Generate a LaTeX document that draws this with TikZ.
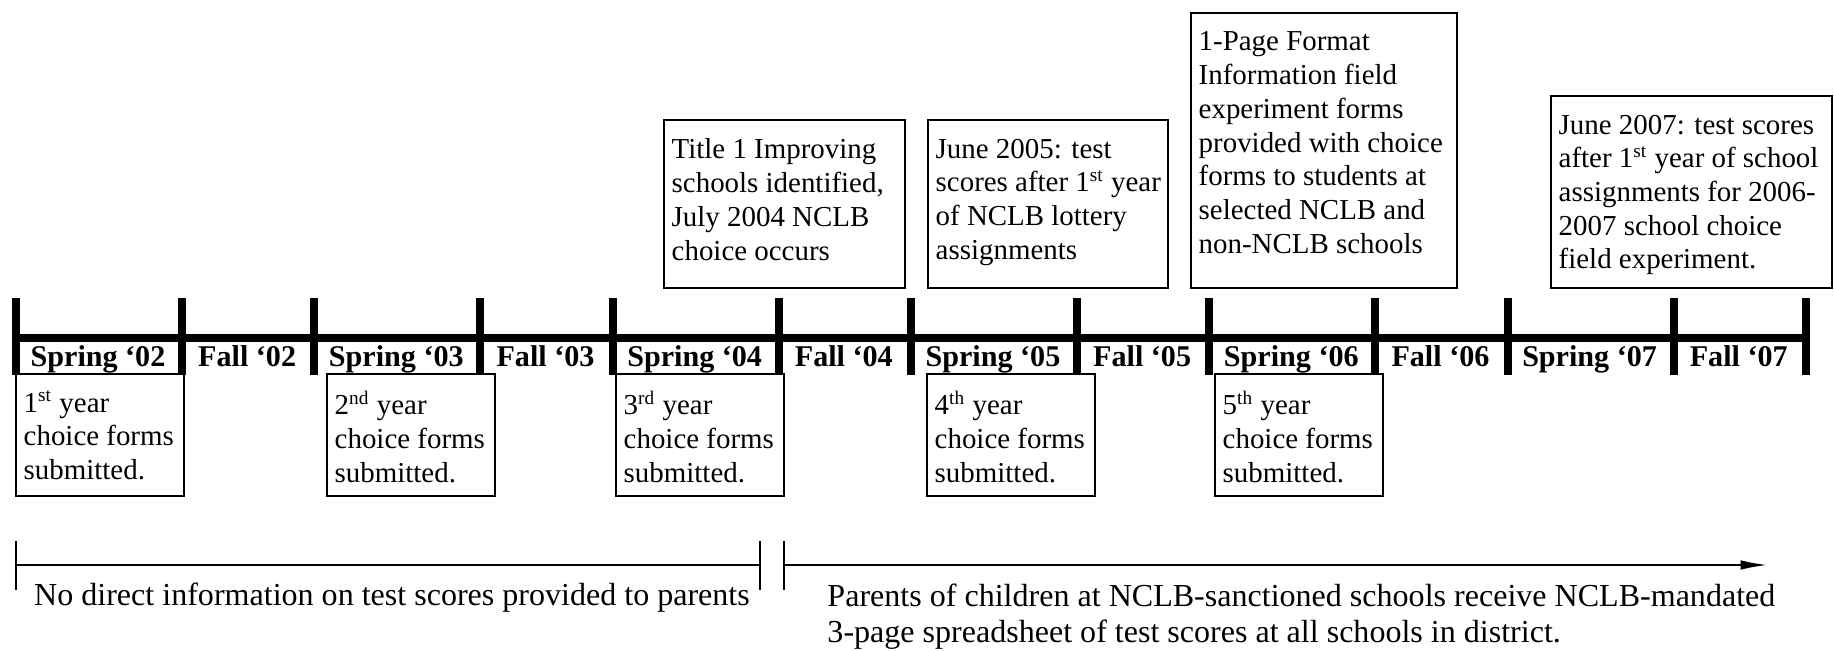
\documentclass[tikz,border=0pt]{standalone}
\usepackage{fontspec}
\setmainfont{Liberation Serif}
\usepackage{tikz}
\usetikzlibrary{positioning, arrows.meta}
\tikzset{
    axisline/.style = {line width=3.2pt},
    tickline/.style = {line width=3.3pt},
    periodnode/.style = {draw=none, fill=none, rectangle, inner sep=0em, node distance=0em,
      text height=8pt, text depth=2.5pt, font=\bfseries\fontsize{12.5}{14}\selectfont},
    boxtext/.style = {draw=none, fill=none, rectangle, anchor=north west, align=left,
      inner xsep=3pt, inner ysep=6.8pt, font=\fontsize{12}{14}\selectfont},
    topboxtext/.style = {boxtext, inner ysep=7.6pt},
    boxline/.style = {draw, line width=0.9pt},
    textnode/.style = {draw=none, fill=none, rectangle, inner sep=0em, align=left,
      font=\fontsize{13.3}{15}\selectfont},
    spanline/.style = {line width=0.7pt},
    endline/.style = {line width=0.5pt}
}

\begin{document}
\begin{tikzpicture}[x=0.415pt, y=-0.415pt]
    \useasboundingbox (0,0) rectangle (1834,650);

    % time axis
    \draw [axisline] (12,338) -- (1810,338);
    \draw [tickline] (16,298) -- (16,375) (182,298) -- (182,375)
        (314.3,298) -- (314.3,375) (480.3,298) -- (480.3,375)
        (612.6,298) -- (612.6,375) (778.6,298) -- (778.6,375)
        (910.9,298) -- (910.9,375) (1076.9,298) -- (1076.9,375)
        (1209.2,298) -- (1209.2,375) (1375.2,298) -- (1375.2,375)
        (1507.5,298) -- (1507.5,375) (1673.5,298) -- (1673.5,375)
        (1805.8,298) -- (1805.8,375);

    \node [name=sp02, periodnode] at (98,360) {Spring ‘02};
    \node [name=fa02, periodnode, right of = sp02, xshift=61.9pt] {Fall ‘02};
    \node [name=sp03, periodnode, right of = fa02, xshift=61.9pt] {Spring ‘03};
    \node [name=fa03, periodnode, right of = sp03, xshift=61.9pt] {Fall ‘03};
    \node [name=sp04, periodnode, right of = fa03, xshift=61.9pt] {Spring ‘04};
    \node [name=fa04, periodnode, right of = sp04, xshift=61.9pt] {Fall ‘04};
    \node [name=sp05, periodnode, right of = fa04, xshift=61.9pt] {Spring ‘05};
    \node [name=fa05, periodnode, right of = sp05, xshift=61.9pt] {Fall ‘05};
    \node [name=sp06, periodnode, right of = fa05, xshift=61.9pt] {Spring ‘06};
    \node [name=fa06, periodnode, right of = sp06, xshift=61.9pt] {Fall ‘06};
    \node [name=sp07, periodnode, right of = fa06, xshift=61.9pt] {Spring ‘07};
    \node [name=fa07, periodnode, right of = sp07, xshift=61.9pt] {Fall ‘07};

    % events above the axis
    \node [name=title1, topboxtext] at (664,120) {Title 1 Improving\\schools identified,\\July 2004 NCLB\\choice occurs};
    \draw [boxline] (title1.north west) rectangle ++(241,168);
    \node [name=june05, topboxtext] at (928,120) {June 2005: test\\scores after 1\textsuperscript{st} year\\of NCLB lottery\\assignments};
    \draw [boxline] (june05.north west) rectangle ++(240,168);
    \node [name=onepage, topboxtext] at (1191,13) {1-Page Format\\Information field\\experiment forms\\provided with choice\\forms to students at\\selected NCLB and\\non-NCLB schools};
    \draw [boxline] (onepage.north west) rectangle ++(266,275);
    \node [name=june07, topboxtext] at (1551,96) {June 2007: test scores\\after 1\textsuperscript{st} year of school\\assignments for 2006-\\2007 school choice\\field experiment.};
    \draw [boxline] (june07.north west) rectangle ++(281,192);

    % choice forms below the axis
    \node [name=forms1, boxtext] at (16,374) {1\textsuperscript{st} year\\choice forms\\submitted.};
    \draw [boxline] (forms1.north west) rectangle ++(168,122);
    \node [name=forms2, boxtext] at (327,374) {2\textsuperscript{nd} year\\choice forms\\submitted.};
    \draw [boxline] (forms2.north west) rectangle ++(168,122);
    \node [name=forms3, boxtext] at (616,374) {3\textsuperscript{rd} year\\choice forms\\submitted.};
    \draw [boxline] (forms3.north west) rectangle ++(168,122);
    \node [name=forms4, boxtext] at (927,374) {4\textsuperscript{th} year\\choice forms\\submitted.};
    \draw [boxline] (forms4.north west) rectangle ++(168,122);
    \node [name=forms5, boxtext] at (1215,374) {5\textsuperscript{th} year\\choice forms\\submitted.};
    \draw [boxline] (forms5.north west) rectangle ++(168,122);

    % information periods
    \coordinate (nostart) at (16,565);
    \coordinate (noend) at (760,565);
    \coordinate (sheetstart) at (784,565);
    \coordinate (sheetend) at (1767,565);
    \draw [spanline] (nostart) -- (noend);
    \draw [endline] (nostart) ++(0,-24) -- ++(0,49);
    \draw [endline] (noend) ++(0,-24) -- ++(0,49);
    \draw [endline] (sheetstart) ++(0,-24) -- ++(0,49);
    \draw [spanline, -{Latex[length=11pt, width=4pt]}] (sheetstart) -- (sheetend);

    \node [name=noinfo, textnode] at (392,598) {No direct information on test scores provided to parents};
    \node [name=sheet, textnode, anchor=north west] at (827,583) {Parents of children at NCLB-sanctioned schools receive NCLB-mandated\\3-page spreadsheet of test scores at all schools in district.};
\end{tikzpicture}
\end{document}
